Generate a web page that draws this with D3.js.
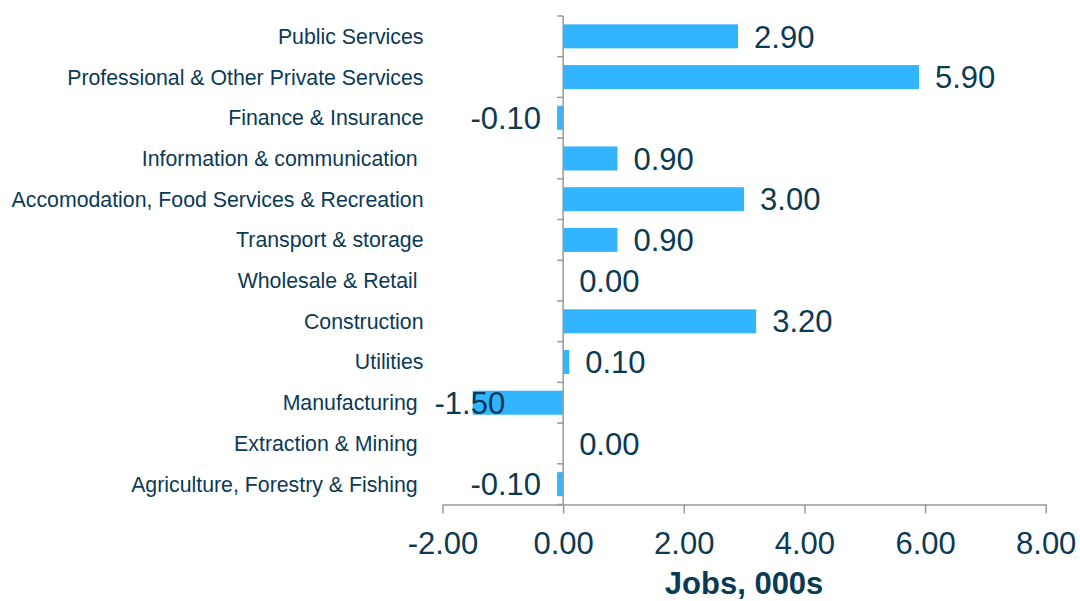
<!DOCTYPE html>
<html>
<head>
<meta charset="utf-8">
<script src="https://cdn.jsdelivr.net/npm/d3@7"></script>
<style>
  body { margin: 0; background: #fff; }
  svg { display: block; font-family: "Liberation Sans", Arial, sans-serif; }
</style>
</head>
<body>
<svg id="chart" width="1080" height="601"></svg>
<script>
// categories top to bottom, trailing spaces kept as in the original labels
var categories = [
  'Public Services',
  'Professional & Other Private Services',
  'Finance & Insurance',
  'Information & communication ',
  'Accomodation, Food Services & Recreation',
  'Transport & storage',
  'Wholesale & Retail ',
  'Construction',
  'Utilities',
  'Manufacturing ',
  'Extraction & Mining ',
  'Agriculture, Forestry & Fishing '
]
var jobs = [2.9, 5.9, -0.1, 0.9, 3.0, 0.9, 0.0, 3.2, 0.1, -1.5, 0.0, -0.1]
var xTicks = [-2, 0, 2, 4, 6, 8]
var xTitle = 'Jobs, 000s'

var textColor = '#0b3a55'
var barColor = '#33b4fe'
var axisColor = '#999999'

// plain hyphen for negatives, like the original
var fmt = function (d) { return d3.format('.2f')(d).replace('\u2212', '-') }

var svg = d3.select('#chart')

// Set the ranges
var x = d3.scaleLinear().domain([-2, 8]).range([442.5, 1045.7])
var y = d3.scaleBand().domain(categories).range([16, 504.5])
  .paddingInner(0.41).paddingOuter(0.205)

// bars
svg.append('g').selectAll('rect')
  .data(jobs)
  .enter().append('rect')
  .attr('x', function (d) { return x(Math.min(0, d)) })
  .attr('y', function (d, i) { return y(categories[i]) })
  .attr('width', function (d) { return Math.abs(x(d) - x(0)) })
  .attr('height', y.bandwidth())
  .attr('fill', barColor)

// vertical zero axis with category ticks
var zeroG = svg.append('g').attr('transform', 'translate(' + x(0) + ',0)')
zeroG.append('line')
  .attr('y1', y.range()[0]).attr('y2', y.range()[1])
  .attr('stroke', axisColor).attr('stroke-width', 1.5)
var bounds = categories.map(function (c) { return y(c) - y.step() * y.paddingInner() / 2 })
bounds.push(y.range()[1])
zeroG.selectAll('.ctick')
  .data(bounds)
  .enter().append('line')
  .attr('class', 'ctick')
  .attr('x1', -6).attr('x2', 0)
  .attr('y1', function (d) { return d }).attr('y2', function (d) { return d })
  .attr('stroke', axisColor).attr('stroke-width', 1.5)

// x axis
var xAxisG = svg.append('g')
  .attr('transform', 'translate(0,' + y.range()[1] + ')')
  .call(d3.axisBottom(x).tickValues(xTicks).tickSize(9).tickSizeOuter(0).tickPadding(18)
    .tickFormat(fmt))
xAxisG.select('.domain').attr('stroke', axisColor).attr('stroke-width', 1.5)
xAxisG.selectAll('.tick line').attr('stroke', axisColor).attr('stroke-width', 1.5)
xAxisG.selectAll('.tick text')
  .attr('fill', textColor)
  .style('font-size', '31px')
  .style('font-family', '"Liberation Sans", Arial, sans-serif')

// category labels
svg.append('g').selectAll('text')
  .data(categories)
  .enter().append('text')
  .attr('x', x(-2) - 19)
  .attr('y', function (d) { return y(d) + y.bandwidth() / 2 })
  .attr('dy', '0.35em')
  .attr('text-anchor', 'end')
  .attr('xml:space', 'preserve')
  .style('white-space', 'pre')
  .attr('fill', textColor)
  .style('font-size', '21.3px')
  .text(function (d) { return d })

// value labels
svg.append('g').selectAll('text')
  .data(jobs)
  .enter().append('text')
  .attr('y', function (d, i) { return y(categories[i]) + y.bandwidth() / 2 })
  .attr('dy', '0.36em')
  .attr('fill', textColor)
  .style('font-size', '31px')
  .text(function (d) { return fmt(d) })
  .each(function (d) {
    var t = d3.select(this)
    if (d >= 0) {
      t.attr('x', x(d) + 16)
    } else {
      var w = this.getComputedTextLength()
      var left = x(d) - 16 - w
      // keep the label inside the plot area like the original
      if (left < x(-2) - 8) left = x(-2) - 8
      t.attr('x', left)
    }
  })

// x axis title
svg.append('text')
  .attr('x', (x(-2) + x(8)) / 2)
  .attr('y', 594)
  .attr('text-anchor', 'middle')
  .attr('fill', textColor)
  .style('font-size', '31px')
  .style('font-weight', 'bold')
  .text(xTitle)
</script>
</body>
</html>
